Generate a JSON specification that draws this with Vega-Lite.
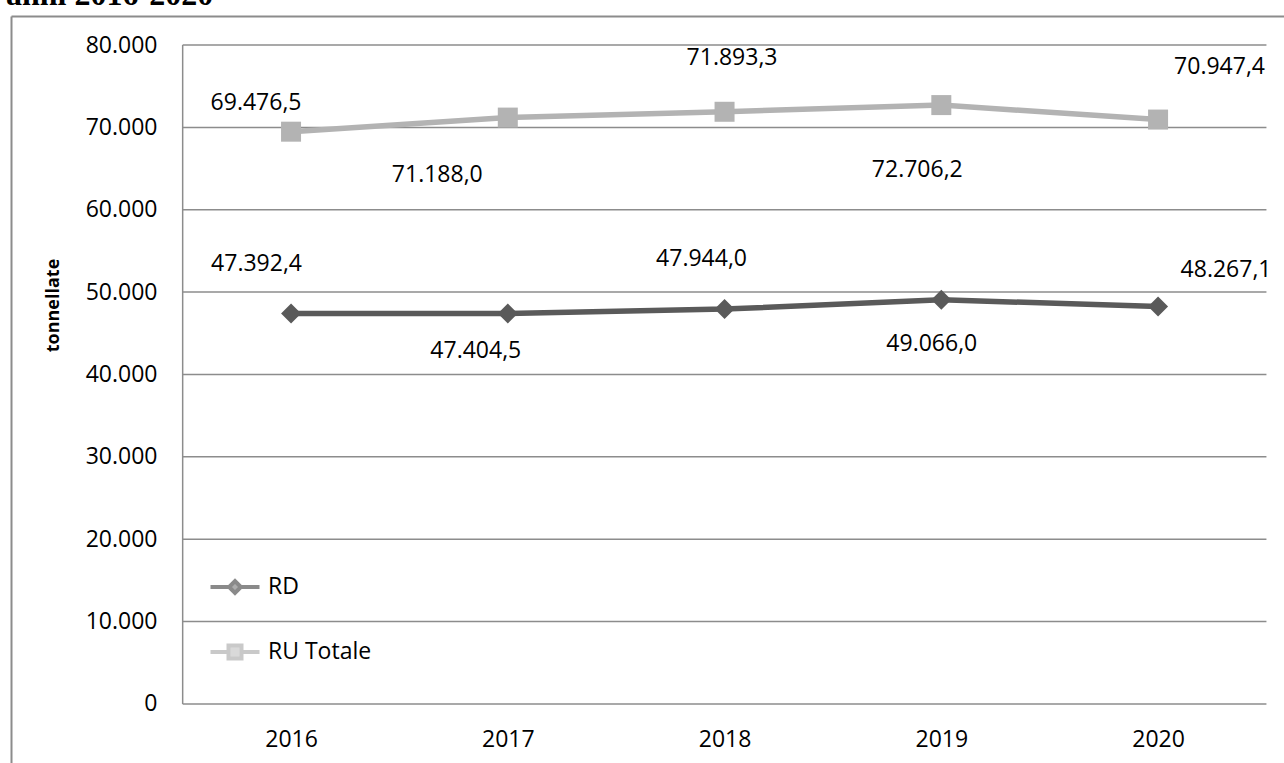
{
  "$schema": "https://vega.github.io/schema/vega-lite/v6.json",
  "width": 1273,
  "height": 747,
  "autosize": {"type": "none"},
  "padding": {"left": 11, "top": 16, "right": 0, "bottom": 0},
  "background": "white",
  "title": {"text": "anni 2016-2020", "anchor": "start", "frame": "group", "font": "Liberation Serif", "fontSize": 32, "fontWeight": "bold", "color": "#000000", "offset": 8, "baseline": "alphabetic", "dx": -5, "dy": 29},
  "config": {
    "view": {"stroke": null},
    "font": "Open Sans",
    "locale": {"number": {"decimal": ",", "thousands": ".", "grouping": [3], "currency": ["€", ""]}}
  },
  "layer": [
    {
      "data": {"values": [{"v": 0}, {"v": 10000}, {"v": 20000}, {"v": 30000}, {"v": 40000}, {"v": 50000}, {"v": 60000}, {"v": 70000}, {"v": 80000}]},
      "mark": {"type": "rule", "stroke": "#8c8c8c", "strokeWidth": 1.5},
      "encoding": {
        "y": {"field": "v", "type": "quantitative", "scale": {"domain": [-7162.4, 83520.5], "nice": false, "zero": false}, "axis": null},
        "x": {"datum": 2015.5, "type": "quantitative", "scale": {"domain": [2014.708, 2020.581], "nice": false, "zero": false}, "axis": null},
        "x2": {"datum": 2020.5}
      }
    },
    {
      "data": {"values": [{"v": 0}, {"v": 80000}]},
      "mark": {"type": "rule", "stroke": "#8c8c8c", "strokeWidth": 1.5},
      "encoding": {
        "x": {"datum": 2015.5, "type": "quantitative", "scale": {"domain": [2014.708, 2020.581], "nice": false, "zero": false}, "axis": null},
        "y": {"aggregate": "min", "field": "v", "type": "quantitative", "scale": {"domain": [-7162.4, 83520.5], "nice": false, "zero": false}, "axis": null},
        "y2": {"aggregate": "max", "field": "v"}
      }
    },
    {
      "data": {"values": [
        {"year": 2016, "series": "RD", "value": 47392.4},
        {"year": 2017, "series": "RD", "value": 47404.5},
        {"year": 2018, "series": "RD", "value": 47944.0},
        {"year": 2019, "series": "RD", "value": 49066.0},
        {"year": 2020, "series": "RD", "value": 48267.1},
        {"year": 2016, "series": "RU Totale", "value": 69476.5},
        {"year": 2017, "series": "RU Totale", "value": 71188.0},
        {"year": 2018, "series": "RU Totale", "value": 71893.3},
        {"year": 2019, "series": "RU Totale", "value": 72706.2},
        {"year": 2020, "series": "RU Totale", "value": 70947.4}
      ]},
      "encoding": {
        "x": {"field": "year", "type": "quantitative", "scale": {"domain": [2014.708, 2020.581], "nice": false, "zero": false}, "axis": null},
        "y": {"field": "value", "type": "quantitative", "scale": {"domain": [-7162.4, 83520.5], "nice": false, "zero": false}, "axis": null}
      },
      "layer": [
        {
          "mark": {"type": "line", "strokeWidth": 5.5},
          "encoding": {
            "x": {"field": "year", "type": "quantitative", "scale": {"domain": [2014.708, 2020.581], "nice": false, "zero": false},
                  "axis": {"orient": "bottom", "offset": -59, "values": [2016, 2017, 2018, 2019, 2020], "format": "d", "domain": false, "ticks": false, "tickSize": 0, "grid": false, "labelFontSize": 23, "labelFont": "Open Sans", "labelColor": "#000000", "labelPadding": 24, "labelFlush": false, "title": null}},
            "y": {"field": "value", "type": "quantitative", "scale": {"domain": [-7162.4, 83520.5], "nice": false, "zero": false},
                  "axis": {"orient": "left", "offset": -172, "values": [0, 10000, 20000, 30000, 40000, 50000, 60000, 70000, 80000], "format": ",d", "domain": false, "ticks": false, "tickSize": 0, "grid": false, "labelFontSize": 23, "labelFont": "Open Sans", "labelColor": "#000000", "labelPadding": 26, "labelFlush": false,
                           "title": "tonnellate", "titleFont": "Open Sans", "titleFontSize": 18, "titleFontWeight": "bold", "titleColor": "#000000", "titlePadding": 23, "titleY": 289}},
            "color": {"field": "series", "type": "nominal", "scale": {"domain": ["RD", "RU Totale"], "range": ["#5a5a5a", "#b3b3b3"]}, "legend": null}
          }
        },
        {
          "mark": {"type": "point", "filled": true, "size": 400, "opacity": 1},
          "encoding": {
            "color": {"field": "series", "type": "nominal", "scale": {"domain": ["RD", "RU Totale"], "range": ["#5a5a5a", "#b3b3b3"]}, "legend": null},
            "shape": {"field": "series", "type": "nominal", "scale": {"domain": ["RD", "RU Totale"], "range": ["diamond", "square"]}, "legend": null}
          }
        },
        {"transform": [{"filter": "datum.series === 'RU Totale' && datum.year === 2016"}], "mark": {"type": "text", "fontSize": 23, "color": "#000000", "align": "center", "baseline": "middle", "dx": -35, "dy": -28.5}, "encoding": {"text": {"field": "value", "type": "quantitative", "format": ",.1f"}}},
        {"transform": [{"filter": "datum.series === 'RU Totale' && datum.year === 2017"}], "mark": {"type": "text", "fontSize": 23, "color": "#000000", "align": "center", "baseline": "middle", "dx": -70.5, "dy": 57}, "encoding": {"text": {"field": "value", "type": "quantitative", "format": ",.1f"}}},
        {"transform": [{"filter": "datum.series === 'RU Totale' && datum.year === 2018"}], "mark": {"type": "text", "fontSize": 23, "color": "#000000", "align": "center", "baseline": "middle", "dx": 7.5, "dy": -54}, "encoding": {"text": {"field": "value", "type": "quantitative", "format": ",.1f"}}},
        {"transform": [{"filter": "datum.series === 'RU Totale' && datum.year === 2019"}], "mark": {"type": "text", "fontSize": 23, "color": "#000000", "align": "center", "baseline": "middle", "dx": -24, "dy": 65}, "encoding": {"text": {"field": "value", "type": "quantitative", "format": ",.1f"}}},
        {"transform": [{"filter": "datum.series === 'RU Totale' && datum.year === 2020"}], "mark": {"type": "text", "fontSize": 23, "color": "#000000", "align": "center", "baseline": "middle", "dx": 61.5, "dy": -53}, "encoding": {"text": {"field": "value", "type": "quantitative", "format": ",.1f"}}},
        {"transform": [{"filter": "datum.series === 'RD' && datum.year === 2016"}], "mark": {"type": "text", "fontSize": 23, "color": "#000000", "align": "center", "baseline": "middle", "dx": -34.5, "dy": -50}, "encoding": {"text": {"field": "value", "type": "quantitative", "format": ",.1f"}}},
        {"transform": [{"filter": "datum.series === 'RD' && datum.year === 2017"}], "mark": {"type": "text", "fontSize": 23, "color": "#000000", "align": "center", "baseline": "middle", "dx": -32, "dy": 37}, "encoding": {"text": {"field": "value", "type": "quantitative", "format": ",.1f"}}},
        {"transform": [{"filter": "datum.series === 'RD' && datum.year === 2018"}], "mark": {"type": "text", "fontSize": 23, "color": "#000000", "align": "center", "baseline": "middle", "dx": -23, "dy": -50.5}, "encoding": {"text": {"field": "value", "type": "quantitative", "format": ",.1f"}}},
        {"transform": [{"filter": "datum.series === 'RD' && datum.year === 2019"}], "mark": {"type": "text", "fontSize": 23, "color": "#000000", "align": "center", "baseline": "middle", "dx": -9.5, "dy": 44}, "encoding": {"text": {"field": "value", "type": "quantitative", "format": ",.1f"}}},
        {"transform": [{"filter": "datum.series === 'RD' && datum.year === 2020"}], "mark": {"type": "text", "fontSize": 23, "color": "#000000", "align": "center", "baseline": "middle", "dx": 68, "dy": -36}, "encoding": {"text": {"field": "value", "type": "quantitative", "format": ",.1f"}}},
        {
          "mark": {"type": "point", "filled": true, "size": 0, "strokeWidth": 4},
          "encoding": {
            "x": {"field": "year", "type": "quantitative", "scale": {"domain": [2014.708, 2020.581], "nice": false, "zero": false},
                  "axis": {"orient": "top", "offset": 0, "domain": true, "domainColor": "#8c8c8c", "domainWidth": 2, "ticks": false, "labels": false, "grid": false, "title": null}},
            "y": {"field": "value", "type": "quantitative", "scale": {"domain": [-7162.4, 83520.5], "nice": false, "zero": false},
                  "axis": {"orient": "left", "offset": 0, "domain": true, "domainColor": "#8c8c8c", "domainWidth": 2, "ticks": false, "labels": false, "grid": false, "title": null}},
            "shape": {"field": "series", "type": "nominal",
                      "scale": {"domain": ["RD", "RU Totale"], "range": ["M-2.45,0H-0.58L0,-0.58L0.58,0H2.45H0.58L0,0.58L-0.58,0Z", "M-2.45,0H-0.65V-0.65H0.65V0H2.45H0.65V0.65H-0.65V0Z"]},
                      "legend": {"orient": "none", "legendX": 212, "legendY": 559, "title": null, "padding": 0, "symbolSize": 400, "symbolStrokeWidth": 4, "labelFontSize": 23, "labelFont": "Open Sans", "labelColor": "#000000", "labelOffset": 21, "rowPadding": 36}},
            "fill": {"field": "series", "type": "nominal", "scale": {"domain": ["RD", "RU Totale"], "range": ["#5a5a5a", "#b3b3b3"]},
                     "legend": {"orient": "none", "legendX": 212, "legendY": 559, "title": null, "padding": 0, "symbolSize": 400, "symbolStrokeWidth": 4, "labelFontSize": 23, "labelFont": "Open Sans", "labelColor": "#000000", "labelOffset": 21, "rowPadding": 36}},
            "stroke": {"field": "series", "type": "nominal", "scale": {"domain": ["RD", "RU Totale"], "range": ["#5a5a5a", "#b3b3b3"]},
                       "legend": {"orient": "none", "legendX": 212, "legendY": 559, "title": null, "padding": 0, "symbolSize": 400, "symbolStrokeWidth": 4, "labelFontSize": 23, "labelFont": "Open Sans", "labelColor": "#000000", "labelOffset": 21, "rowPadding": 36}}
          }
        }
      ],
      "resolve": {"scale": {"shape": "independent", "fill": "independent", "stroke": "independent"}, "axis": {"x": "independent", "y": "independent"}}
    }
  ],
  "resolve": {"axis": {"x": "independent", "y": "independent"}}
}
